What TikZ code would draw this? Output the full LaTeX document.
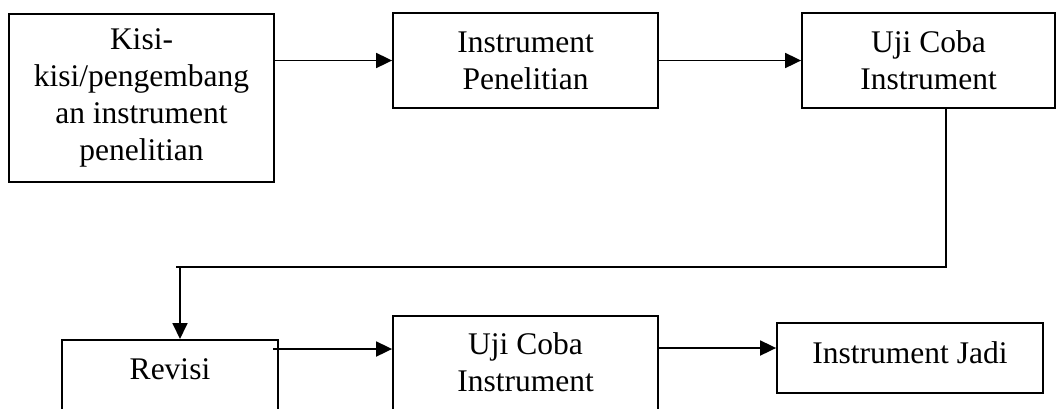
\documentclass[tikz,border=0pt]{standalone}
\usepackage{fontspec}
\setmainfont{Liberation Serif}
\usetikzlibrary{arrows.meta,calc}
\begin{document}
\begin{tikzpicture}[x=1pt,y=1pt,
  box/.style={draw=black, line width=1.8pt, inner sep=0pt},
  txt/.style={font=\fontsize{31.5}{37}\selectfont, align=center},
  arr/.style={line width=1.8pt, -{Triangle[length=16pt,width=15pt]}},
  ln/.style={line width=1.8pt}]
\useasboundingbox (0,0) rectangle (1057,-408);
\clip (0,0) rectangle (1057,-408);
% top row
\node[box, txt, minimum width=265pt, minimum height=168pt] (b1) at (141.5,-98)
  {Kisi-\\kisi/pengembang\\an instrument\\penelitian};
\node[box, txt, minimum width=265pt, minimum height=95pt] (b2) at (525.5,-60.5)
  {Instrument\\Penelitian};
\node[box, txt, minimum width=253pt, minimum height=95pt] (b3) at (928.5,-60.5)
  {Uji Coba\\Instrument};
% bottom row
\node[box, txt, anchor=north, minimum width=216pt, text height=40pt, text depth=60pt] (rev) at (170,-339) {Revisi};
\node[box, anchor=north, minimum width=265pt, minimum height=130pt] (u2) at (525.5,-315) {};
\node[txt, anchor=north, inner sep=0pt] (u2t) at (525.5,-332.5) {Uji Coba\\Instrument};
\node[box, txt, minimum width=266pt, text height=40pt, text depth=30pt] (jadi) at (910,-358) {Instrument Jadi};
% connectors
\draw[arr] (b1.east |- b2.west) -- (b2.west);
\draw[arr] (b2.east) -- (b3.west);
\coordinate (d1) at (946,-267);
\coordinate (d2) at (176,-267);
\coordinate (d3) at (180,-267);
\draw[ln] (b3.south -| d1) -- (d1) -- (d2);
\draw[arr] (d3) -- (rev.north -| d3);
\coordinate (r1) at (273,-349);
\draw[arr] (r1) -- (u2.west |- r1);
\coordinate (r2) at (660,-348);
\draw[arr] (u2.east |- r2) -- (jadi.west |- r2);
\end{tikzpicture}
\end{document}
